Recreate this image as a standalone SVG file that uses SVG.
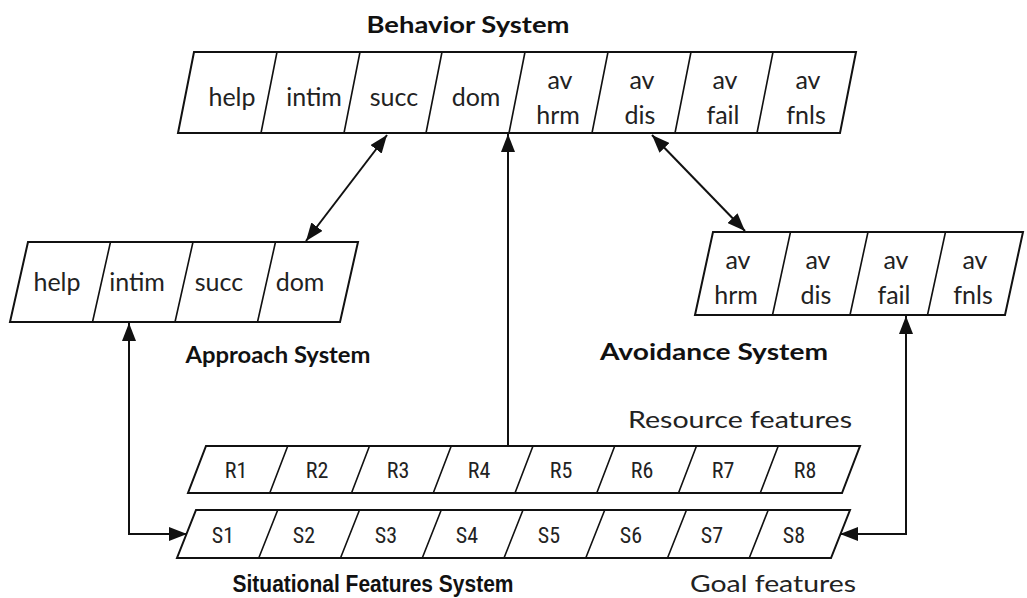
<svg xmlns="http://www.w3.org/2000/svg" width="1027" height="598" viewBox="0 0 1027 598">
<style>
.box{fill:#fff;stroke:#111;stroke-width:2}
.div{stroke:#111;stroke-width:1.6;fill:none}
.cell{font-family:"Lato","Liberation Sans",sans-serif;font-size:25px;fill:#222;text-anchor:middle}
.rs{font-family:"Liberation Sans Narrow","Roboto Condensed","Liberation Sans",sans-serif;font-size:22px;fill:#222;text-anchor:middle}
.title{font-family:"Lato","Liberation Sans",sans-serif;font-weight:bold;font-size:23px;fill:#111;text-anchor:middle}
.sit{font-family:"Liberation Sans Narrow","Liberation Sans",sans-serif;font-weight:bold;font-size:23px;fill:#111;text-anchor:middle}
.sub{font-family:"Lato","Liberation Sans",sans-serif;font-size:23px;fill:#222;text-anchor:middle}
.con{stroke:#111;stroke-width:2;fill:none}
</style>
<defs>
<marker id="ah" viewBox="0 0 18 14" refX="18" refY="7" markerWidth="18" markerHeight="14" markerUnits="userSpaceOnUse" orient="auto-start-reverse">
<path d="M0,0 L18,7 L0,14 Z" fill="#111"/>
</marker>
</defs>
<rect width="1027" height="598" fill="#fff"/>

<g id="behavior">
<polygon class="box" points="194,52 856,52 840,133 178,133"/>
<path class="div" d="M277,52L261,133M360,52L344,133M442,52L426,133M525,52L509,133M608,52L592,133M691,52L675,133M773,52L757,133"/>
<text class="cell" x="232" y="106">help</text>
<text class="cell" x="314" y="106">intim</text>
<text class="cell" x="394" y="106">succ</text>
<text class="cell" x="476" y="106">dom</text>
<text class="cell" x="560" y="89">av</text><text class="cell" x="558" y="124">hrm</text>
<text class="cell" x="642" y="89">av</text><text class="cell" x="640" y="124">dis</text>
<text class="cell" x="725" y="89">av</text><text class="cell" x="723" y="124">fail</text>
<text class="cell" x="808" y="89">av</text><text class="cell" x="806" y="124">fnls</text>
<text class="title" x="468" y="33" textLength="203" lengthAdjust="spacingAndGlyphs">Behavior System</text>
</g>

<g id="approach">
<polygon class="box" points="28,242 358,242 340,322 10,322"/>
<path class="div" d="M110.5,242L92.5,322M193,242L175,322M275.5,242L257.5,322"/>
<text class="cell" x="57" y="291">help</text>
<text class="cell" x="137" y="291">intim</text>
<text class="cell" x="219" y="291">succ</text>
<text class="cell" x="300" y="291">dom</text>
<text class="title" x="278" y="363" textLength="185" lengthAdjust="spacingAndGlyphs">Approach System</text>
</g>

<g id="avoidance">
<polygon class="box" points="713,232 1023,232 1005,315 695,315"/>
<path class="div" d="M790.5,232L772.5,315M868,232L850,315M945.5,232L927.5,315"/>
<text class="cell" x="738" y="269">av</text><text class="cell" x="736" y="304">hrm</text>
<text class="cell" x="818" y="269">av</text><text class="cell" x="816" y="304">dis</text>
<text class="cell" x="896" y="269">av</text><text class="cell" x="894" y="304">fail</text>
<text class="cell" x="975" y="269">av</text><text class="cell" x="973" y="304">fnls</text>
<text class="title" x="714" y="360" textLength="228" lengthAdjust="spacingAndGlyphs">Avoidance System</text>
</g>

<g id="resource">
<polygon class="box" points="206,446 860,446 842,493 188,493"/>
<path class="div" d="M287.75,446L269.75,493M369.5,446L351.5,493M451.25,446L433.25,493M533,446L515,493M614.75,446L596.75,493M696.5,446L678.5,493M778.25,446L760.25,493"/>
<text class="rs" x="236" y="478">R1</text>
<text class="rs" x="317" y="478">R2</text>
<text class="rs" x="398" y="478">R3</text>
<text class="rs" x="479" y="478">R4</text>
<text class="rs" x="561" y="478">R5</text>
<text class="rs" x="642" y="478">R6</text>
<text class="rs" x="723" y="478">R7</text>
<text class="rs" x="805" y="478">R8</text>
<text class="sub" x="740" y="428" textLength="224" lengthAdjust="spacingAndGlyphs">Resource features</text>
</g>

<g id="situational">
<polygon class="box" points="196,510 850,510 831,558 177,558"/>
<path class="div" d="M277.75,510L258.75,558M359.5,510L340.5,558M441.25,510L422.25,558M523,510L504,558M604.75,510L585.75,558M686.5,510L667.5,558M768.25,510L749.25,558"/>
<text class="rs" x="223" y="543">S1</text>
<text class="rs" x="304" y="543">S2</text>
<text class="rs" x="386" y="543">S3</text>
<text class="rs" x="467" y="543">S4</text>
<text class="rs" x="549" y="543">S5</text>
<text class="rs" x="631" y="543">S6</text>
<text class="rs" x="712" y="543">S7</text>
<text class="rs" x="794" y="543">S8</text>
<text class="sit" x="373" y="592" textLength="281" lengthAdjust="spacingAndGlyphs">Situational Features System</text>
<text class="sub" x="773" y="592" textLength="166" lengthAdjust="spacingAndGlyphs">Goal features</text>
</g>

<g id="connectors">
<line class="con" x1="306" y1="241" x2="387" y2="135" marker-start="url(#ah)" marker-end="url(#ah)"/>
<line class="con" x1="652" y1="135" x2="745" y2="231" marker-start="url(#ah)" marker-end="url(#ah)"/>
<line class="con" x1="508" y1="446" x2="508" y2="134" marker-end="url(#ah)"/>
<polyline class="con" points="129,323 129,534 187,534" marker-start="url(#ah)" marker-end="url(#ah)"/>
<polyline class="con" points="906,316 906,534 840,534" marker-start="url(#ah)" marker-end="url(#ah)"/>
</g>
</svg>
